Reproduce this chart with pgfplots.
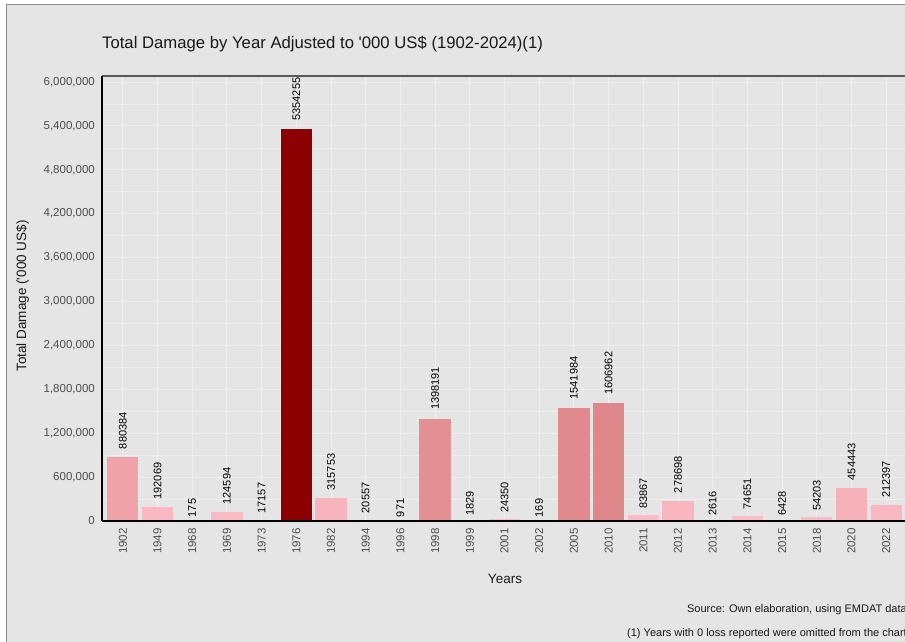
\documentclass[border=0pt]{standalone}
\usepackage{pgfplots}
\pgfplotsset{compat=1.18}
\usepackage{fontspec}
\setmainfont{Liberation Sans}

\definecolor{bgpanel}{HTML}{E5E5E5}
\definecolor{gridc}{HTML}{EFEFEF}
\definecolor{ticktext}{HTML}{4D4D4D}
\definecolor{frameline}{HTML}{8C8C8C}
% fill colours: pink (low damage) to dark red (high damage)
\definecolor{c1902}{RGB}{240,163,169}
\definecolor{c1949}{RGB}{251,184,194}
\definecolor{c1968}{RGB}{252,189,200}
\definecolor{c1969}{RGB}{251,186,196}
\definecolor{c1973}{RGB}{252,189,200}
\definecolor{c1976}{RGB}{139,0,0}
\definecolor{c1982}{RGB}{249,181,190}
\definecolor{c1994}{RGB}{252,189,200}
\definecolor{c1996}{RGB}{252,189,200}
\definecolor{c1998}{RGB}{227,144,148}
\definecolor{c1999}{RGB}{252,189,200}
\definecolor{c2001}{RGB}{252,189,200}
\definecolor{c2002}{RGB}{252,189,200}
\definecolor{c2005}{RGB}{224,138,141}
\definecolor{c2010}{RGB}{222,136,139}
\definecolor{c2011}{RGB}{252,188,198}
\definecolor{c2012}{RGB}{250,182,191}
\definecolor{c2013}{RGB}{252,189,200}
\definecolor{c2014}{RGB}{252,188,198}
\definecolor{c2015}{RGB}{252,189,200}
\definecolor{c2018}{RGB}{252,188,199}
\definecolor{c2020}{RGB}{247,177,185}
\definecolor{c2022}{RGB}{251,184,194}

% one bar: position, damage value, fill colour
\newcommand{\dmgbar}[3]{\addplot[ybar, bar width=0.9, bar shift=0pt, fill=#3, draw=none] coordinates {(#1,#2) [#2]};}

\begin{document}
\begin{tikzpicture}
\path[use as bounding box] (0pt,0pt) rectangle (905pt,-641pt);
\begin{scope}
\clip (0pt,0pt) rectangle (905pt,-641pt);
\fill[white] (0pt,0pt) rectangle (905pt,-641pt);
\fill[bgpanel] (6.5pt,-4.5pt) rectangle (915pt,-650pt);
\draw[frameline, line width=0.8pt] (6.5pt,-650pt) -- (6.5pt,-4.5pt) -- (915pt,-4.5pt);

\begin{axis}[
  at={(102pt,-521pt)}, anchor=south west,
  scale only axis, width=805pt, height=445pt,
  xmin=-0.6, xmax=22.6, ymin=0, ymax=6082000,
  clip=false,
  axis x line*=bottom, axis y line*=left,
  axis line style={black, line width=1.2pt},
  xtick={0,1,2,3,4,5,6,7,8,9,10,11,12,13,14,15,16,17,18,19,20,21,22},
  xticklabels={1902,1949,1968,1969,1973,1976,1982,1994,1996,1998,1999,2001,2002,2005,2010,2011,2012,2013,2014,2015,2018,2020,2022},
  ytick={0,600000,1200000,1800000,2400000,3000000,3600000,4200000,4800000,5400000,6000000},
  minor ytick={300000,900000,1500000,2100000,2700000,3300000,3900000,4500000,5100000,5700000},
  xmajorgrids, ymajorgrids, yminorgrids,
  major grid style={gridc, line width=0.9pt},
  minor grid style={gridc, line width=0.6pt},
  major tick length=0pt, minor tick length=0pt,
  scaled y ticks=false,
  /pgf/number format/assume math mode=true,
  /pgf/number format/fixed,
  /pgf/number format/precision=0,
  /pgf/number format/1000 sep={,},
  tick label style={font=\fontsize{11.5}{13}\selectfont, text=ticktext},
  yticklabel style={inner sep=0pt, xshift=-7pt},
  xticklabel style={inner sep=0pt, yshift=-7pt, rotate=90, anchor=east},
  nodes near coords={\makebox[1.2\width][r]{\pgfplotspointmeta}},
  point meta=explicit symbolic,
  nodes near coords align={horizontal},
  every node near coord/.append style={font=\fontsize{11}{13}\selectfont, text=black, rotate=90, anchor=west, inner sep=0pt},
]
\dmgbar{0}{880384}{c1902}
\dmgbar{1}{192069}{c1949}
\dmgbar{2}{175}{c1968}
\dmgbar{3}{124594}{c1969}
\dmgbar{4}{17157}{c1973}
\dmgbar{5}{5354255}{c1976}
\dmgbar{6}{315753}{c1982}
\dmgbar{7}{20557}{c1994}
\dmgbar{8}{971}{c1996}
\dmgbar{9}{1398191}{c1998}
\dmgbar{10}{1829}{c1999}
\dmgbar{11}{24350}{c2001}
\dmgbar{12}{169}{c2002}
\dmgbar{13}{1541984}{c2005}
\dmgbar{14}{1606962}{c2010}
\dmgbar{15}{83867}{c2011}
\dmgbar{16}{278698}{c2012}
\dmgbar{17}{2616}{c2013}
\dmgbar{18}{74651}{c2014}
\dmgbar{19}{6428}{c2015}
\dmgbar{20}{54203}{c2018}
\dmgbar{21}{454443}{c2020}
\dmgbar{22}{212397}{c2022}
% panel border lines, drawn over the bars
\draw[black!65, line width=1.3pt] (rel axis cs:0,1) -- (rel axis cs:1,1);
\draw[black, line width=1.2pt] (rel axis cs:0,0) -- (rel axis cs:1,0);
\draw[black, line width=1.2pt] (rel axis cs:0,0) -- (rel axis cs:0,1);
\end{axis}

% titles and captions
\node[anchor=base west, inner sep=0pt, font=\fontsize{16.7}{19}\selectfont, text=black!90] at (102pt,-48pt)
  {Total Damage by Year Adjusted to \textquotesingle000 US\$ (1902-2024)(1)};
\node[anchor=base, inner sep=0pt, rotate=90, font=\fontsize{13.5}{16}\selectfont, text=black!90] at (26pt,-296pt)
  {Total Damage (\textquotesingle000 US\$)};
\node[anchor=base, inner sep=0pt, font=\fontsize{13.5}{16}\selectfont, text=black!90] at (505pt,-583pt) {Years};
\node[anchor=base east, inner sep=0pt, font=\fontsize{11}{13}\selectfont, text=black!90] at (907pt,-612pt)
  {Source: Own elaboration, using EMDAT data};
\node[anchor=base east, inner sep=0pt, font=\fontsize{11}{13}\selectfont, text=black!90] at (907pt,-636pt)
  {(1) Years with 0 loss reported were omitted from the chart};
\end{scope}
\end{tikzpicture}
\end{document}
